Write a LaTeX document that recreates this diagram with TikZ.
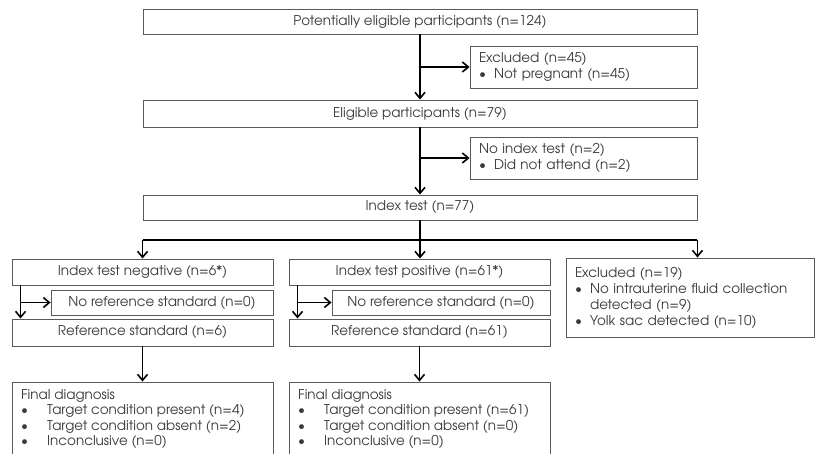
\documentclass[tikz,border=0pt]{standalone}
\usepackage{fontspec}
\setmainfont{TeX Gyre Adventor}
\usetikzlibrary{arrows.meta,calc}
\definecolor{txt}{HTML}{3A3A3A}
\definecolor{frame}{HTML}{5A5A5A}
\tikzset{
  box/.style={draw=frame, line width=0.9pt, fill=white, inner sep=0pt, text=txt,
    font=\fontsize{13.5}{16}\selectfont},
  listbox/.style={box, align=left, inner xsep=9pt},
  listtext/.style={anchor=north west, inner sep=0pt, text=txt, align=left,
    font=\fontsize{13.5}{15.2}\selectfont},
  flow/.style={draw=black, line width=1.6pt},
  arr/.style={flow, -{Straight Barb[length=6pt,width=10pt,line width=1.6pt]}},
}
\newcommand{\bul}[1][15pt]{\makebox[#1][l]{\textbullet}}
\begin{document}
\begin{tikzpicture}[x=1pt,y=-1pt]
  \fill[white] (0,0) rectangle (816,454);
  \useasboundingbox (0,0) rectangle (816,454);
  \clip (0,0) rectangle (816,454);

  % main column
  \node[box, minimum width=554, minimum height=25] (top) at (420,21.5)
    {Potentially eligible participants (n=124)};
  \node[listbox, minimum width=227, minimum height=42, text width=209] (excl1) at (583.5,67)
    {Excluded (n=45)\\\bul Not pregnant (n=45)};
  \node[box, minimum width=554, minimum height=27] (elig) at (420,113.5)
    {Eligible participants (n=79)};
  \node[listbox, minimum width=227, minimum height=42, text width=209] (noidx) at (583.5,158)
    {No index test (n=2)\\\bul Did not attend (n=2)};
  \node[box, minimum width=554, minimum height=25] (index) at (420,207.5)
    {Index test (n=77)};

  % second level
  \node[box, minimum width=261, minimum height=26] (neg) at (142.5,272)
    {Index test negative (n=6*)};
  \node[box, minimum width=222, minimum height=25] (norefL) at (162,302.5)
    {No reference standard (n=0)};
  \node[box, minimum width=261, minimum height=27] (refL) at (142.5,332.5)
    {Reference standard (n=6)};

  \node[box, minimum width=261, minimum height=26] (pos) at (419.5,272)
    {Index test positive (n=61*)};
  \node[box, minimum width=218, minimum height=25] (norefM) at (441,302.5)
    {No reference standard (n=0)};
  \node[box, minimum width=261, minimum height=27] (refM) at (419.5,332.5)
    {Reference standard (n=61)};

  \node[listbox, minimum width=248, minimum height=79, text width=230] (excl2) at (690,297.5)
    {Excluded (n=19)\\
     \bul No intrauterine fluid collection\\
     \hspace*{15pt}detected (n=9)\\
     \bul Yolk sac detected (n=10)};

  % final diagnosis boxes (run past the lower edge)
  \node[box, minimum width=261, minimum height=90] (finL) at (142.5,427) {};
  \node[listtext] (finLtxt) at (21,389.5)
    {Final diagnosis\\
     \bul[26pt]Target condition present (n=4)\\
     \bul[26pt]Target condition absent (n=2)\\
     \bul[26pt]Inconclusive (n=0)};
  \node[box, minimum width=261, minimum height=90] (finM) at (419.5,427) {};
  \node[listtext] (finMtxt) at (298,389.5)
    {Final diagnosis\\
     \bul[26pt]Target condition present (n=61)\\
     \bul[26pt]Target condition absent (n=0)\\
     \bul[26pt]Inconclusive (n=0)};

  % connectors, main column
  \draw[arr] (top.south) -- (elig.north);
  \draw[arr] (top.south |- excl1.west) -- (excl1.west);
  \draw[arr] (elig.south) -- (index.north);
  \draw[arr] (elig.south |- noidx.west) -- (noidx.west);

  % three-way split under the index test
  \coordinate (busy) at (0,240);
  \draw[flow] (index.south) -- (index.south |- busy);
  \draw[flow] (index.west |- busy) -- (index.east |- busy);
  \draw[arr] (index.west |- busy) -- (index.west |- neg.north);
  \draw[arr] (index.south |- busy) -- (index.south |- pos.north);
  \draw[arr] (index.east |- busy) -- (index.east |- excl2.north);

  % left branch
  \coordinate (sideL) at ($(neg.south west)+(9,0)$);
  \draw[arr] (sideL) -- (sideL |- refL.north);
  \draw[arr] (sideL |- norefL.west) -- (norefL.west);
  \draw[arr] (refL.south) -- (finL.north);

  % middle branch
  \coordinate (sideM) at ($(pos.south west)+(9,0)$);
  \draw[arr] (sideM) -- (sideM |- refM.north);
  \draw[arr] (sideM |- norefM.west) -- (norefM.west);
  \draw[arr] (refM.south) -- (finM.north);
\end{tikzpicture}
\end{document}
